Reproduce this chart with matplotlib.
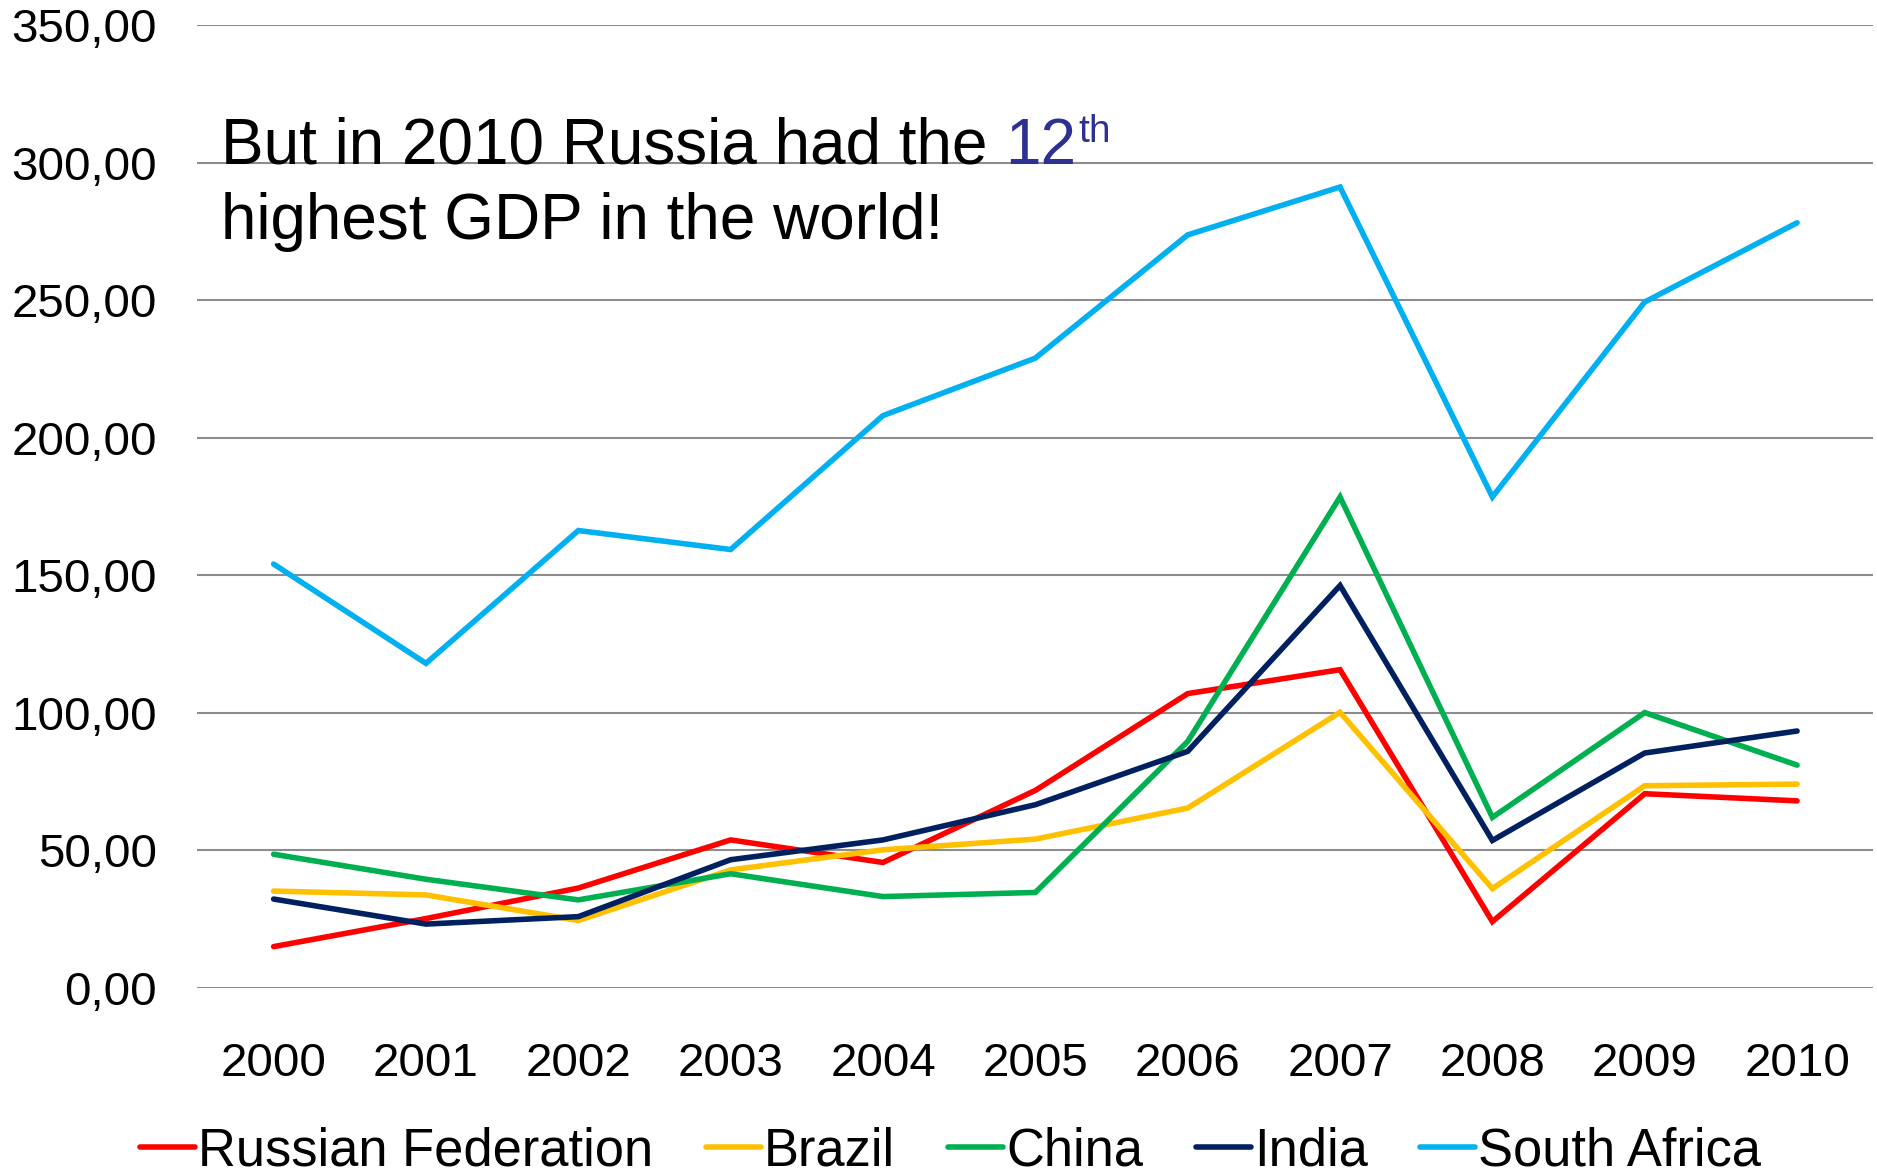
import matplotlib
matplotlib.use("Agg")
import matplotlib.pyplot as plt
from matplotlib.ticker import FuncFormatter

plt.rcParams['font.family'] = ['Liberation Sans', 'DejaVu Sans']

years = ["2000", "2001", "2002", "2003", "2004", "2005",
         "2006", "2007", "2008", "2009", "2010"]
russia = [14.9, 25.1, 36.2, 53.7, 45.5, 71.7, 106.9, 115.6, 24.0, 70.5, 67.9]
brazil = [35.1, 33.7, 24.4, 42.8, 50.1, 54.0, 65.3, 100.1, 36.0, 73.4, 74.0]
china = [48.5, 39.4, 31.9, 41.4, 33.1, 34.6, 89.5, 178.4, 61.9, 100.0, 80.9]
india = [32.2, 23.1, 25.8, 46.5, 53.7, 66.5, 85.9, 146.2, 53.5, 85.3, 93.3]
south_africa = [154.0, 117.9, 166.2, 159.3, 208.0, 228.9, 273.7, 291.1, 178.4, 249.3, 278.1]

series = [
    ("Russian Federation", russia, "#FF0000"),
    ("Brazil", brazil, "#FFC000"),
    ("China", china, "#00B050"),
    ("India", india, "#002060"),
    ("South Africa", south_africa, "#00B0F0"),
]

W, H = 1877, 1176
fig = plt.figure(figsize=(W / 100, H / 100), dpi=100)
ax = fig.add_axes([0.1052, 0.1602, 0.8928, 0.8185])

x = list(range(len(years)))
for name, vals, col in series:
    ax.plot(x, vals, color=col, lw=4.0, label=name, solid_capstyle='round',
            solid_joinstyle='miter')

ax.set_xlim(-0.5, len(years) - 0.5)
ax.set_ylim(0, 350)
ax.set_yticks(range(0, 351, 50))
ax.yaxis.set_major_formatter(FuncFormatter(lambda v, p: f"{v:.2f}".replace(".", ",")))
ax.set_xticks(x)
ax.set_xticklabels(years)
ax.grid(axis='y', color='#8C8C8C', lw=1.5)
ax.set_axisbelow(True)
for s in ax.spines.values():
    s.set_visible(False)
ax.tick_params(axis='both', length=0, labelsize=34.2, colors='black')
ax.tick_params(axis='y', pad=29)
ax.tick_params(axis='x', pad=39)

fig.legend(loc='center', bbox_to_anchor=(0.5065, 0.021), ncol=5, frameon=False,
           fontsize=37.8, handlelength=1.05, handletextpad=0.06,
           columnspacing=1.0, borderaxespad=0)

# Annotation text with coloured rank and superscript
renderer = fig.canvas.get_renderer()
fx, fy = 221 / W, 1 - 164 / H
t1 = fig.text(fx, fy, "But in 2010 Russia had the ", fontsize=46, va='baseline')
bb1 = t1.get_window_extent(renderer)
t2 = fig.text(bb1.x1 / W, fy, "12", fontsize=46, color='#2E3192', va='baseline')
bb2 = t2.get_window_extent(renderer)
fig.text(bb2.x1 / W + 2 / W, fy + 22 / H, "th", fontsize=28, color='#2E3192', va='baseline')
fig.text(fx, 1 - 239 / H, "highest GDP in the world!", fontsize=46, va='baseline')

fig.savefig("out.png", dpi=100)
